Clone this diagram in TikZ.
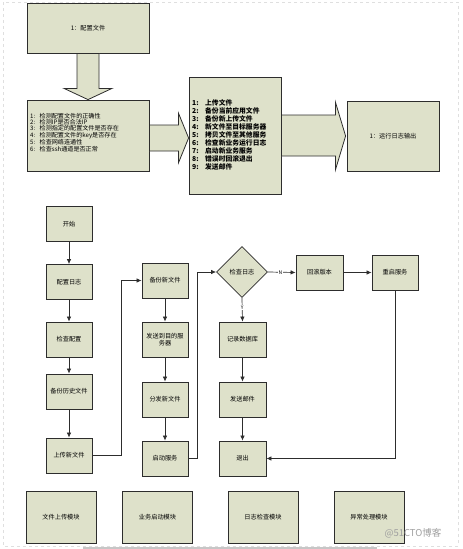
\documentclass[tikz,border=0pt]{standalone}
\usepackage{fontspec}
\setmainfont{Noto Sans CJK SC}
\usetikzlibrary{calc,arrows.meta,shapes.geometric}
\definecolor{boxfill}{RGB}{222,225,202}
\definecolor{edge}{RGB}{45,45,45}
\begin{document}
\begin{tikzpicture}[x=1pt,y=-1pt,
  box/.style={draw=edge,fill=boxfill,line width=0.8pt,minimum width=46pt,minimum height=35pt,inner sep=1pt,font=\fontsize{6.2}{7}\selectfont,align=center},
  conn/.style={draw=edge,line width=0.7pt,-{Latex[length=5pt,width=4.5pt]}},
  blk/.style={draw=edge,fill=boxfill,line width=0.8pt,line join=miter},
  lbl/.style={fill=white,inner sep=0.6pt,font=\fontsize{5}{5}\selectfont},
  modbox/.style={box,minimum width=70pt,minimum height=52pt}]
\useasboundingbox (0,0) rectangle (463,549);
% page frame
\draw[gray!25,dashed,line width=0.6pt] (3,2) rectangle (458,546);
\draw[gray!45,line width=1.5pt] (83,548) -- (377,548);

% ---------- top part ----------
\node[box,minimum width=122pt,minimum height=50pt] (cfg) at (88,28) {1：配置文件};
\node[box,minimum width=122pt,minimum height=71pt] (chk) at (88,135.5) {};
\node[anchor=north west,inner sep=0pt,align=left,font=\fontsize{6.1}{6.3}\selectfont] (chkt) at (30,113)
 {\makebox[9.5pt][l]{1:}检测配置文件的正确性\\
  \makebox[9.5pt][l]{2:}检测IP是否合法IP\\
  \makebox[9.5pt][l]{3:}检测指定的配置文件是否存在\\
  \makebox[9.5pt][l]{4:}检测配置文件的key是否存在\\
  \makebox[9.5pt][l]{5:}检查网络连通性\\
  \makebox[9.5pt][l]{6:}检查ssh通道是否正常};
\node[box,minimum width=92pt,minimum height=117pt] (dep) at (235,135.5) {};
\node[anchor=north west,inner sep=0pt,align=left,font=\bfseries\fontsize{6.8}{8}\selectfont] (dept) at (192,99.5)
 {\makebox[13pt][l]{1:}上传文件\\
  \makebox[13pt][l]{2:}备份当前应用文件\\
  \makebox[13pt][l]{3:}备份新上传文件\\
  \makebox[13pt][l]{4:}新文件至目标服务器\\
  \makebox[13pt][l]{5:}拷贝文件至其他服务\\
  \makebox[13pt][l]{6:}检查新业务运行日志\\
  \makebox[13pt][l]{7:}启动新业务服务\\
  \makebox[13pt][l]{8:}错误时回滚退出\\
  \makebox[13pt][l]{9:}发送邮件};
\node[box,minimum width=92pt,minimum height=70pt] (out) at (393,136) {1：运行日志输出};

% block arrows
\draw[blk] ($(cfg.south)+(-11,0)$) -- ($(cfg.south)+(-11,35)$) -- ($(cfg.south)+(-24,35)$)
  -- (chk.north) -- ($(cfg.south)+(24,35)$) -- ($(cfg.south)+(11,35)$) -- ($(cfg.south)+(11,0)$) -- cycle;
\draw[blk] ($(chk.east)+(0,-10.5)$) -- ($(chk.east)+(29,-10.5)$) -- ($(chk.east)+(29,-22.5)$)
  -- ($(dep.west)+(0,2.5)$) -- ($(chk.east)+(29,27.5)$) -- ($(chk.east)+(29,15.5)$) -- ($(chk.east)+(0,15.5)$) -- cycle;
\draw[blk] ($(dep.east)+(0,-20.5)$) -- ($(dep.east)+(54,-20.5)$) -- ($(dep.east)+(54,-33.5)$)
  -- ($(out.west)+(-1,0)$) -- ($(dep.east)+(54,34.5)$) -- ($(dep.east)+(54,20.5)$) -- ($(dep.east)+(0,20.5)$) -- cycle;

% ---------- flowchart ----------
\node[box] (start) at (69,224) {开始};
\node[box] (cfglog) at (69,282) {配置日志};
\node[box] (chkcfg) at (69,339.5) {检查配置};
\node[box] (bakold) at (69,391.5) {备份历史文件};
\node[box] (upnew) at (69,455.5) {上传新文件};

\node[box] (baknew) at (165,280.5) {备份新文件};
\node[box] (send) at (165,339.5) {发送到目的服\\务器};
\node[box] (dist) at (165,399.5) {分发新文件};
\node[box] (startsvc) at (165,458.5) {启动服务};

\node[box,diamond,minimum width=51pt,minimum height=51pt,inner sep=0pt] (chklog) at (242,272) {检查日志};
\node[box,minimum width=47pt] (rec) at (242.5,339.5) {记录数据库};
\node[box,minimum width=47pt] (mail) at (242.5,399.5) {发送邮件};
\node[box,minimum width=47pt] (quit) at (242.5,458.5) {退出};
\node[box,minimum width=47pt] (roll) at (319.5,272.5) {回滚版本};
\node[box] (restart) at (395,272.5) {重启服务};

\draw[conn] (start) -- (cfglog);
\draw[conn] (cfglog) -- (chkcfg);
\draw[conn] (chkcfg) -- (bakold);
\draw[conn] (bakold) -- (upnew);
\draw[conn] (upnew.east) -- ++(29,0) |- (baknew.west);
\draw[conn] (baknew) -- (send);
\draw[conn] (send) -- (dist);
\draw[conn] (dist) -- (startsvc);
\draw[conn] (startsvc.east) -- ++(9,0) |- (chklog.west);
\draw[conn] (chklog.east) -- node[lbl,pos=0.45]{N} (roll.west);
\draw[conn] (roll) -- (restart);
\draw[conn] (chklog.south) -- node[lbl,pos=0.42]{Y} (rec.north);
\draw[conn] (rec) -- (mail);
\draw[conn] (mail) -- (quit);
\draw[conn] (restart.south) |- (quit.east);

% ---------- modules ----------
\node[modbox] (m1) at (61,517) {文件上传模块};
\node[modbox] (m2) at (157.5,517) {业务启动模块};
\node[modbox] (m3) at (263,517) {日志检查模块};
\node[modbox] (m4) at (369,517) {异常处理模块};

\node[text=gray!75,font=\fontsize{9.5}{10}\selectfont,inner sep=0pt] (wm) at (413,533) {@51CTO博客};
\end{tikzpicture}
\end{document}
